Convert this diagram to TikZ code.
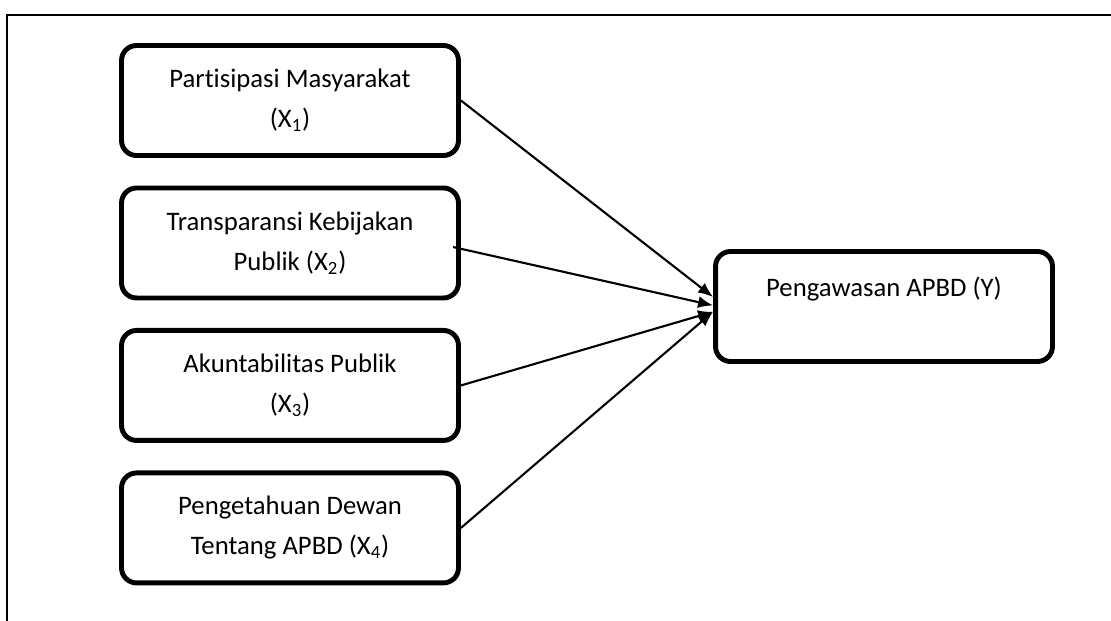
\documentclass[tikz,border=0pt]{standalone}
\usepackage{fontspec}
\setmainfont{Carlito}[Ligatures=NoCommon]
\usetikzlibrary{arrows.meta,positioning}

\begin{document}
\begin{tikzpicture}[->,>={Latex[length=3mm,width=2.4mm]},line width=1.2pt,x=0.02cm,y=-0.02cm,node distance=2.85cm,
  every node/.style={draw,line width=2.8pt,rounded corners=0.3cm,minimum width=6.74cm,minimum height=2.2cm,align=center,font=\fontsize{15.2}{22.7}\selectfont}]
  \useasboundingbox (0,0) rectangle (1111,621);
  \draw[-,line width=1.4pt] (7,621) -- (7,15) -- (1111,15);
  \node (x1) at (290,100.5) {Partisipasi Masyarakat\\(X\textsubscript{1})};
  \node (x2) [below of=x1] {Transparansi Kebijakan\\Publik (X\textsubscript{2})};
  \node (x3) [below of=x2] {Akuntabilitas Publik\\(X\textsubscript{3})};
  \node (x4) [below of=x3] {Pengetahuan Dewan\\Tentang APBD (X\textsubscript{4})};
  \node (y) at (884,306.5) {Pengawasan APBD (Y)\\\mbox{}};
  \path (x1.east) edge ([yshift=5.4pt]y.west);
  \path ([xshift=-4.5pt,yshift=-2.3pt]x2.east) edge ([yshift=0.6pt]y.west);
  \path (x3.east) edge ([yshift=-3pt]y.west);
  \path (x4.east) edge ([yshift=-3pt]y.west);
\end{tikzpicture}
\end{document}
